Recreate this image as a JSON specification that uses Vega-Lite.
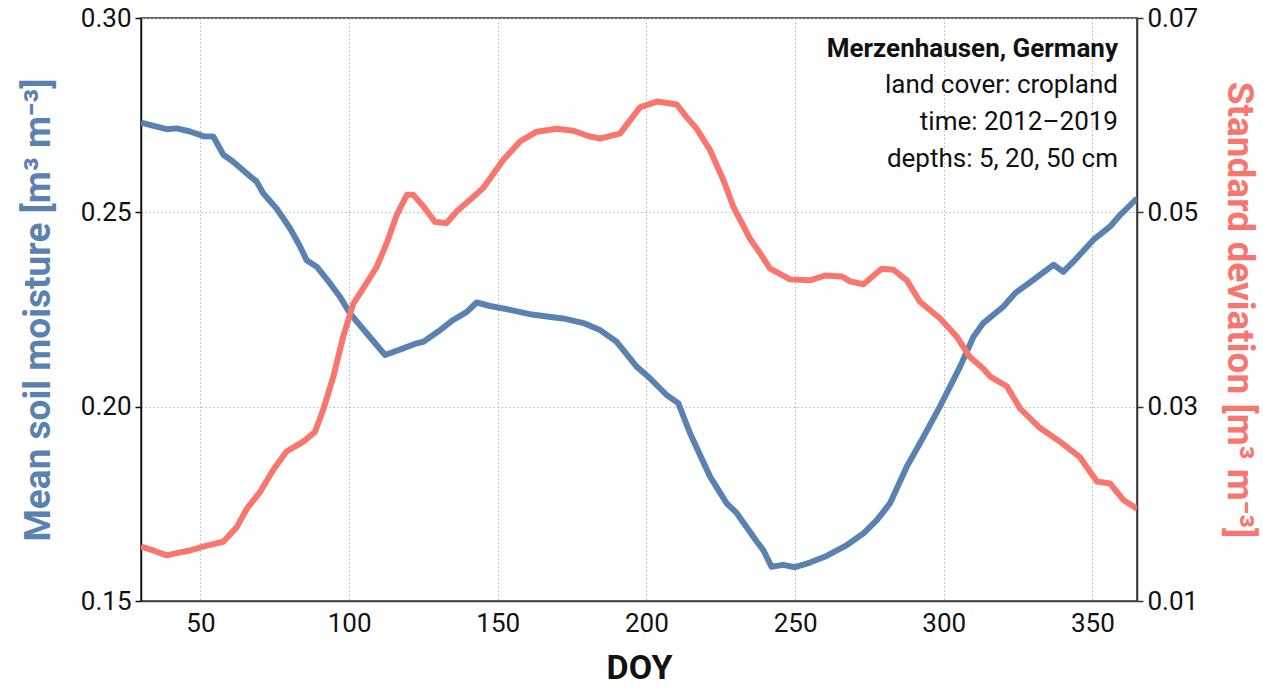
{
  "$schema": "https://vega.github.io/schema/vega-lite/v6.json",
  "autosize": {"type": "none"},
  "width": 996,
  "height": 583,
  "padding": {"left": 141, "top": 18, "right": 126, "bottom": 89},
  "background": "white",
  "config": {
    "font": "Roboto",
    "view": {"stroke": "#333", "strokeWidth": 1.5},
    "axis": {"labelFont": "Roboto", "titleFont": "Roboto", "labelFontSize": 26, "labelColor": "#111", "gridColor": "#b5b5b5", "gridDash": [1.5, 2.5], "gridWidth": 1}
  },
  "datasets": {
    "mean": [
      {"doy": 30, "sm": 0.2731}, {"doy": 38.6, "sm": 0.2714}, {"doy": 42, "sm": 0.2716}, {"doy": 46.5, "sm": 0.2708},
      {"doy": 51, "sm": 0.2696}, {"doy": 54.3, "sm": 0.2695}, {"doy": 57.7, "sm": 0.2648}, {"doy": 61, "sm": 0.263},
      {"doy": 65.6, "sm": 0.26}, {"doy": 68.9, "sm": 0.2579}, {"doy": 71.1, "sm": 0.2549}, {"doy": 75.6, "sm": 0.251},
      {"doy": 80.1, "sm": 0.2459}, {"doy": 83.5, "sm": 0.2412}, {"doy": 85.7, "sm": 0.2377}, {"doy": 89.1, "sm": 0.236},
      {"doy": 93.6, "sm": 0.2317}, {"doy": 96.9, "sm": 0.2283}, {"doy": 100.3, "sm": 0.224}, {"doy": 105.9, "sm": 0.2189},
      {"doy": 112.1, "sm": 0.2133}, {"doy": 118.2, "sm": 0.215}, {"doy": 122.7, "sm": 0.2163}, {"doy": 125, "sm": 0.2167},
      {"doy": 130.6, "sm": 0.2197}, {"doy": 135, "sm": 0.2223}, {"doy": 139.6, "sm": 0.2244}, {"doy": 142.9, "sm": 0.2268},
      {"doy": 147.4, "sm": 0.2259}, {"doy": 154.1, "sm": 0.2249}, {"doy": 160.8, "sm": 0.2238}, {"doy": 169.8, "sm": 0.2229},
      {"doy": 172, "sm": 0.2227}, {"doy": 178.8, "sm": 0.2215}, {"doy": 184.4, "sm": 0.2197}, {"doy": 190, "sm": 0.2167},
      {"doy": 196.7, "sm": 0.2103}, {"doy": 201.2, "sm": 0.2073}, {"doy": 206.8, "sm": 0.203}, {"doy": 210.7, "sm": 0.2009},
      {"doy": 214.7, "sm": 0.1931}, {"doy": 221.4, "sm": 0.182}, {"doy": 227, "sm": 0.1751}, {"doy": 230.4, "sm": 0.1726},
      {"doy": 237.1, "sm": 0.1653}, {"doy": 239.3, "sm": 0.1631}, {"doy": 242.1, "sm": 0.1588}, {"doy": 246, "sm": 0.1593},
      {"doy": 250, "sm": 0.1587}, {"doy": 255, "sm": 0.1599}, {"doy": 260.6, "sm": 0.1616}, {"doy": 267.4, "sm": 0.1644},
      {"doy": 273, "sm": 0.1674}, {"doy": 277.5, "sm": 0.1708}, {"doy": 281.9, "sm": 0.1751}, {"doy": 287.6, "sm": 0.1846},
      {"doy": 292, "sm": 0.1906}, {"doy": 298.7, "sm": 0.2}, {"doy": 305.5, "sm": 0.2103}, {"doy": 310, "sm": 0.218},
      {"doy": 313.3, "sm": 0.2215}, {"doy": 320, "sm": 0.2257}, {"doy": 324, "sm": 0.2292}, {"doy": 330.1, "sm": 0.2326},
      {"doy": 336.9, "sm": 0.2365}, {"doy": 340.2, "sm": 0.2347}, {"doy": 343.6, "sm": 0.2373}, {"doy": 350.3, "sm": 0.2429},
      {"doy": 355.9, "sm": 0.2463}, {"doy": 359.3, "sm": 0.2493}, {"doy": 365, "sm": 0.2536}
    ],
    "sd": [
      {"doy": 30, "sd": 0.0156}, {"doy": 34.1, "sd": 0.0152}, {"doy": 38.6, "sd": 0.0147}, {"doy": 43.1, "sd": 0.015},
      {"doy": 46.5, "sd": 0.0152}, {"doy": 52.1, "sd": 0.0157}, {"doy": 57.7, "sd": 0.0161}, {"doy": 62.2, "sd": 0.0176},
      {"doy": 65.6, "sd": 0.0195}, {"doy": 70, "sd": 0.0212}, {"doy": 74.5, "sd": 0.0235}, {"doy": 79, "sd": 0.0254},
      {"doy": 84.6, "sd": 0.0264}, {"doy": 88.5, "sd": 0.0274}, {"doy": 91.3, "sd": 0.0297}, {"doy": 94.7, "sd": 0.0331},
      {"doy": 98, "sd": 0.0372}, {"doy": 101.4, "sd": 0.0406}, {"doy": 104.8, "sd": 0.0422}, {"doy": 109.3, "sd": 0.0444},
      {"doy": 112.6, "sd": 0.0468}, {"doy": 116, "sd": 0.0497}, {"doy": 119.4, "sd": 0.0518}, {"doy": 121.6, "sd": 0.0518},
      {"doy": 125, "sd": 0.0506}, {"doy": 128.9, "sd": 0.049}, {"doy": 132.8, "sd": 0.0489}, {"doy": 136.2, "sd": 0.0501},
      {"doy": 140.7, "sd": 0.0513}, {"doy": 145.1, "sd": 0.0525}, {"doy": 151.9, "sd": 0.0554}, {"doy": 157.5, "sd": 0.0573},
      {"doy": 163.1, "sd": 0.0583}, {"doy": 169.8, "sd": 0.0586}, {"doy": 175.4, "sd": 0.0584}, {"doy": 181, "sd": 0.0578},
      {"doy": 184.4, "sd": 0.0576}, {"doy": 191.1, "sd": 0.0581}, {"doy": 197.8, "sd": 0.0608}, {"doy": 203.5, "sd": 0.0614},
      {"doy": 210.2, "sd": 0.0611}, {"doy": 213.5, "sd": 0.0598}, {"doy": 216.9, "sd": 0.0586}, {"doy": 221.4, "sd": 0.0564},
      {"doy": 225.9, "sd": 0.0533}, {"doy": 229.2, "sd": 0.0506}, {"doy": 234.8, "sd": 0.0473}, {"doy": 238.2, "sd": 0.0458},
      {"doy": 241.6, "sd": 0.0442}, {"doy": 248.3, "sd": 0.0431}, {"doy": 255, "sd": 0.043}, {"doy": 260.1, "sd": 0.0435},
      {"doy": 265.7, "sd": 0.0434}, {"doy": 268.5, "sd": 0.0429}, {"doy": 273, "sd": 0.0426}, {"doy": 279.1, "sd": 0.0442},
      {"doy": 283, "sd": 0.0441}, {"doy": 287.6, "sd": 0.043}, {"doy": 292, "sd": 0.0408}, {"doy": 298.7, "sd": 0.0391},
      {"doy": 304.4, "sd": 0.0372}, {"doy": 308.8, "sd": 0.0351}, {"doy": 313.3, "sd": 0.0339}, {"doy": 315.6, "sd": 0.0331},
      {"doy": 321.2, "sd": 0.0321}, {"doy": 325.7, "sd": 0.0298}, {"doy": 332.4, "sd": 0.0278}, {"doy": 339.1, "sd": 0.0264},
      {"doy": 345.8, "sd": 0.0248}, {"doy": 351.5, "sd": 0.0223}, {"doy": 355.9, "sd": 0.0221}, {"doy": 360.4, "sd": 0.0204},
      {"doy": 365, "sd": 0.0195}
    ],
    "note": [{"title": "Merzenhausen, Germany"}]
  },
  "layer": [
    {
      "layer": [
        {
          "data": {"name": "mean"},
          "mark": {"type": "line", "color": "#5a82b0", "strokeWidth": 6, "strokeJoin": "round", "strokeCap": "butt", "clip": true},
          "encoding": {
            "x": {"field": "doy", "type": "quantitative",
                  "scale": {"domain": [30, 365], "nice": false, "zero": false},
                  "axis": {"values": [50, 100, 150, 200, 250, 300, 350], "title": "DOY", "titleFontSize": 34, "titleFontWeight": "bold", "titleColor": "#111", "titlePadding": 15, "ticks": false, "labelPadding": 9, "domainColor": "#444", "domainWidth": 1.5, "labelFlush": false}},
            "y": {"field": "sm", "type": "quantitative",
                  "scale": {"domain": [0.15, 0.3], "nice": false, "zero": false},
                  "axis": {"values": [0.15, 0.2, 0.25, 0.3], "format": ".2f", "title": "Mean soil moisture [m³ m⁻³]", "titleColor": "#5a82b0", "titleFontSize": 37, "titleFontWeight": "bold", "titlePadding": 23, "tickColor": "#111", "tickSize": 6, "tickWidth": 1.5, "domainColor": "#111", "domainWidth": 1.5, "labelPadding": 4}}
          }
        },
        {
          "data": {"name": "note"},
          "mark": {"type": "text", "align": "right", "baseline": "middle", "fontSize": 26, "fontWeight": "bold", "font": "Roboto", "color": "#111"},
          "encoding": {
            "x": {"datum": 358.6},
            "y": {"datum": 0.292},
            "text": {"field": "title"}
          }
        },
        {
          "data": {"name": "note"},
          "mark": {"type": "text", "align": "right", "baseline": "top", "fontSize": 26, "font": "Roboto", "color": "#111", "lineHeight": 37,
                   "text": ["land cover: cropland", "time: 2012–2019", "depths: 5, 20, 50 cm"]},
          "encoding": {
            "x": {"datum": 358.6},
            "y": {"datum": 0.2862}
          }
        }
      ]
    },
    {
      "data": {"name": "sd"},
      "mark": {"type": "line", "color": "#f8766d", "strokeWidth": 6, "strokeJoin": "round", "strokeCap": "butt", "clip": true},
      "encoding": {
        "x": {"field": "doy", "type": "quantitative"},
        "y": {"field": "sd", "type": "quantitative",
              "scale": {"domain": [0.01, 0.07], "nice": false, "zero": false},
              "axis": {"orient": "right", "values": [0.01, 0.03, 0.05, 0.07], "format": ".2f", "grid": false, "title": "Standard deviation [m³ m⁻³]", "titleColor": "#f8766d", "titleFontSize": 37, "titleFontWeight": "bold", "titlePadding": 22, "tickColor": "#333", "tickSize": 6, "tickWidth": 1.5, "domainColor": "#333", "domainWidth": 1.5, "labelPadding": 4}}
      }
    }
  ],
  "resolve": {"scale": {"y": "independent"}}
}
